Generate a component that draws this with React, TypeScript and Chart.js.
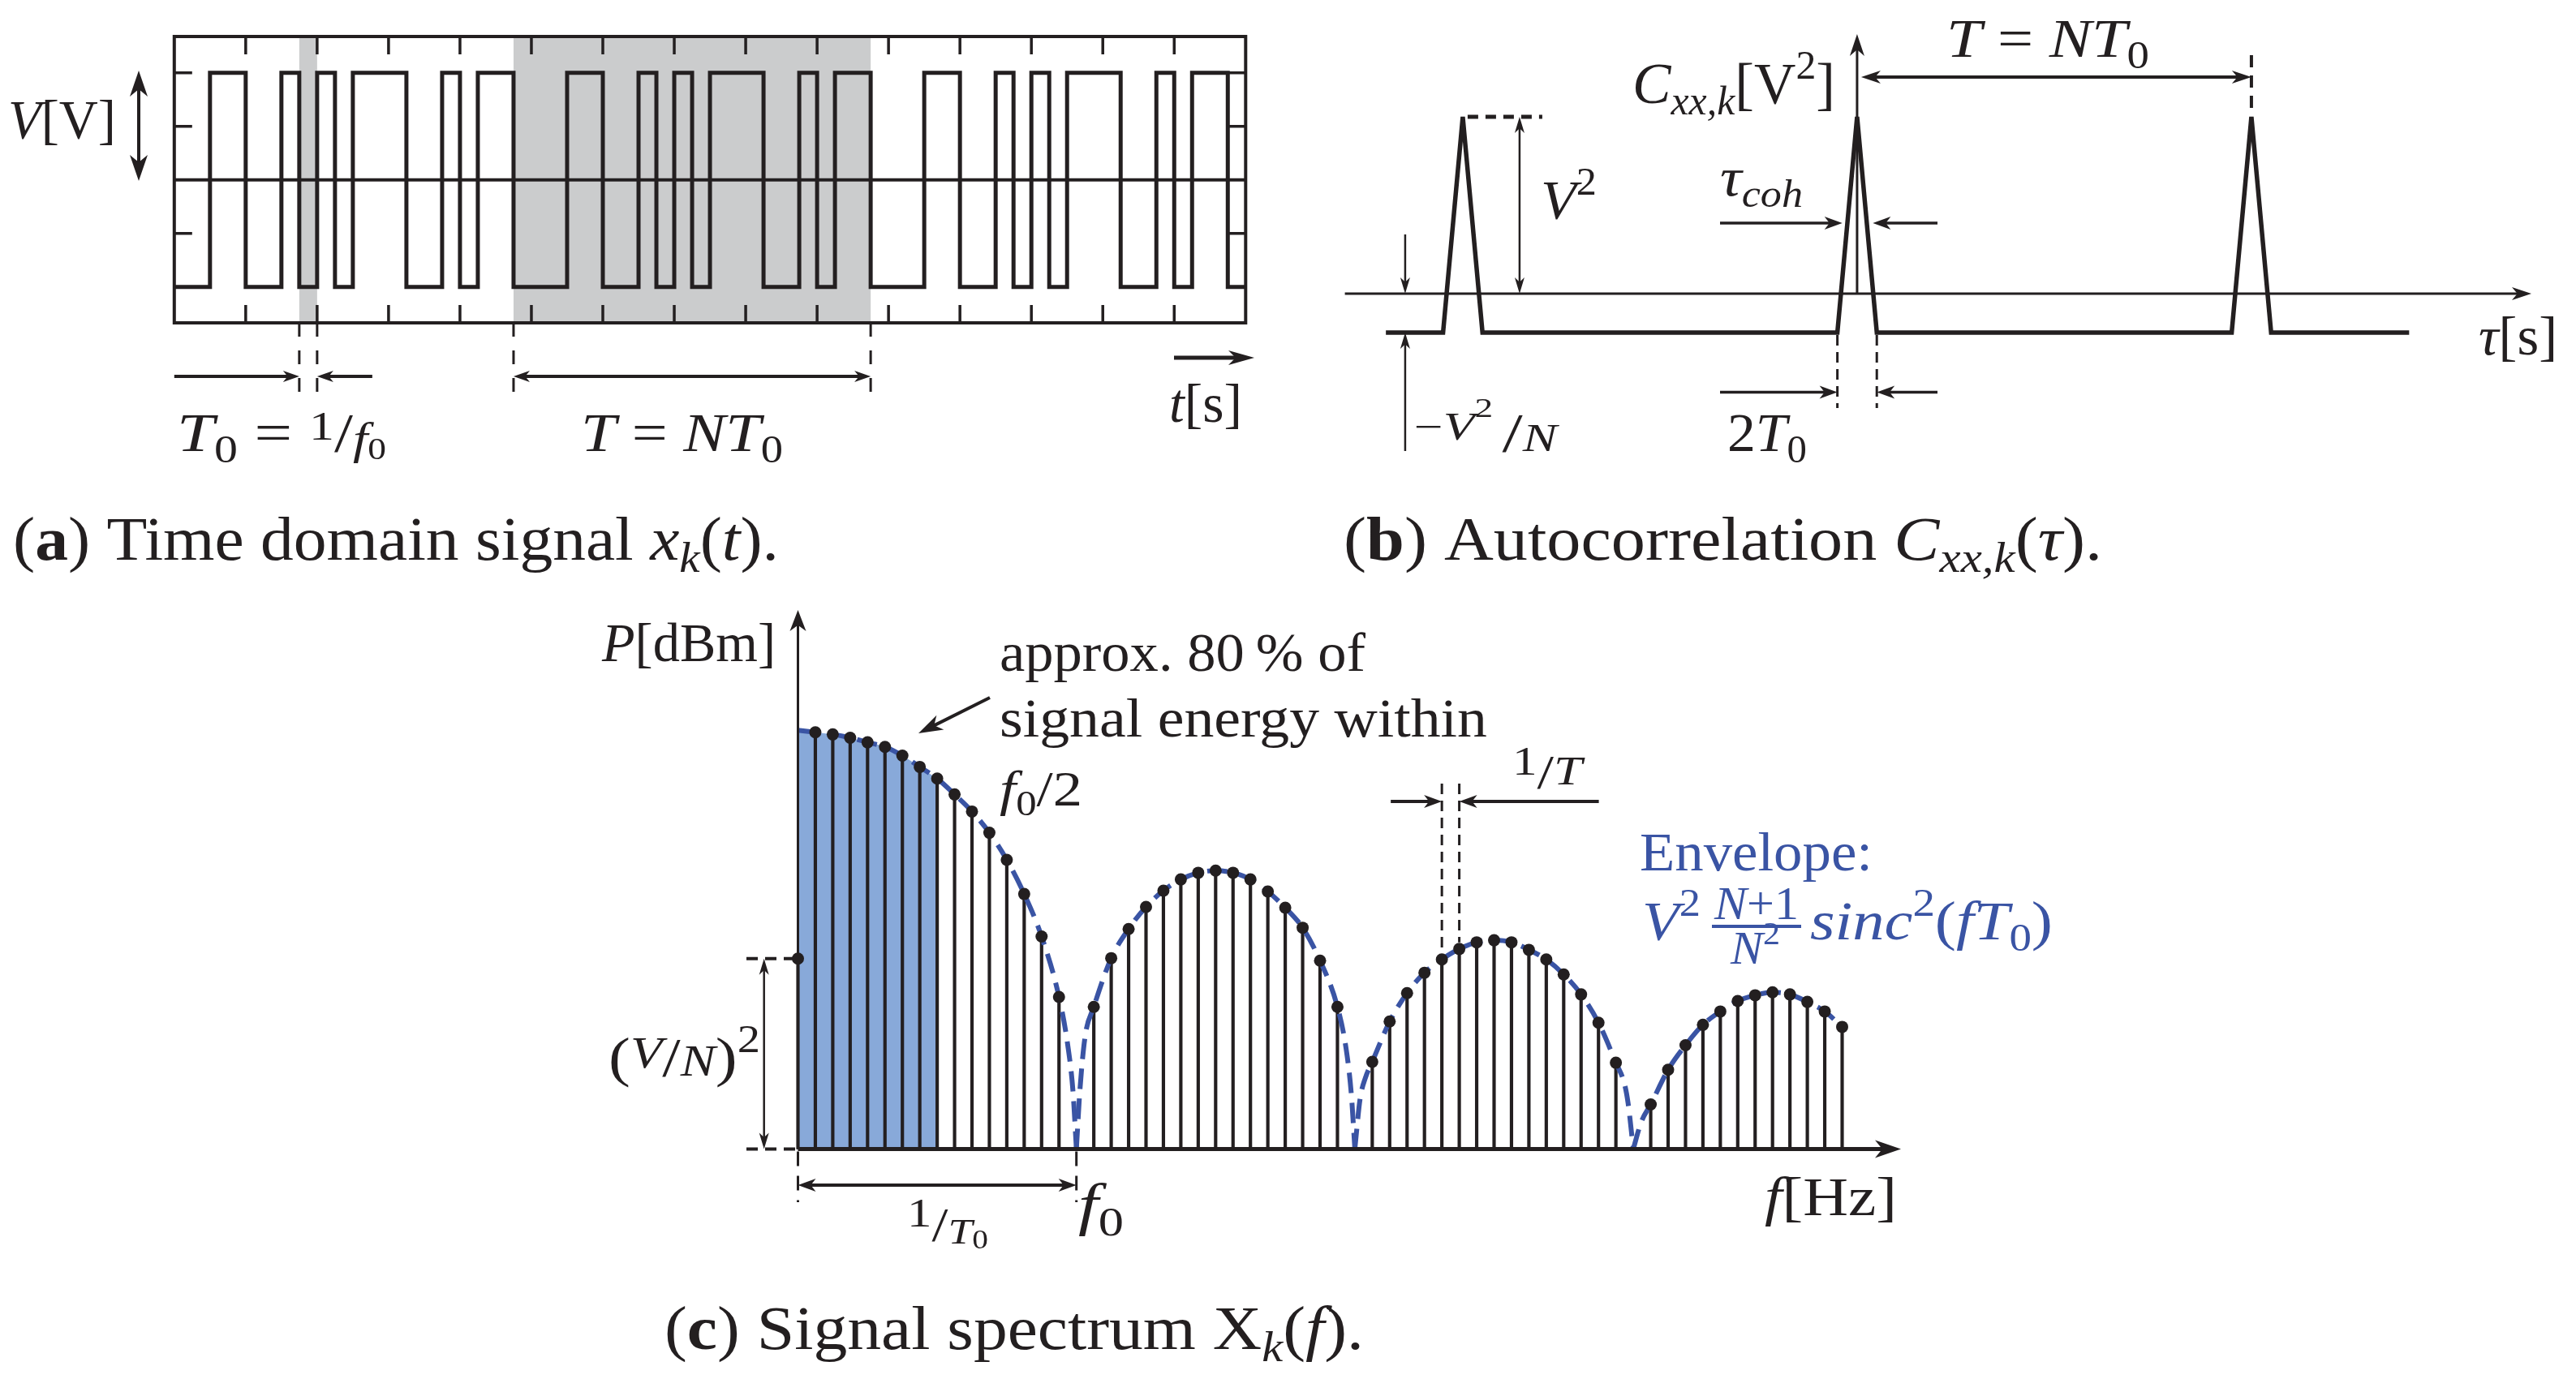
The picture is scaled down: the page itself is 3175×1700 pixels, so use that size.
import React, { useEffect, useRef } from 'react';
import { Chart, registerables } from 'chart.js';

Chart.register(...registerables);

const W = 3175;
const H = 1700;
const INK = '#231f20';
const BLUE = '#3a54a4';
const FILL_BLUE = '#88a9d9';
const SHADE = '#cbcccd';
const FONT = '"Liberation Serif", "Times New Roman", serif';

// ---------------- (a) time domain PRBS signal ----------------
const prbsBits = [
  0, 0, 1, 1, 0, 0, 1, 0, 1, 0, 1, 1, 1, 0, 0, 1, 0, 1, 1, 0,
  0, 0, 1, 1, 0, 0, 1, 0, 1, 0, 1, 1, 1, 0, 0, 1, 0, 1, 1, 0,
  0, 0, 1, 1, 0, 0, 1, 0, 1, 0, 1, 1, 1, 0, 0, 1, 0, 1, 1, 0,
];
const levelHigh = 1;
const levelLow = -1;
const clockTicks = [4, 8, 12, 16, 20, 24, 28, 32, 36, 40, 44, 48, 52, 56];
const amplitudeTicks = [1, 0.5, -0.5, -1];
const shadeStart = [7, 19];
const shadeEnd = [8, 39];

// ---------------- (b) autocorrelation ----------------
const autocorrLag = [-23.9, -21, -20, -19, -1, 0, 1, 19, 20, 21, 28];
const autocorrValue = [-0.22, -0.22, 1, -0.22, -0.22, 1, -0.22, -0.22, 1, -0.22, -0.22];

// ---------------- (c) spectrum ----------------
const spectrumBin = [
  0, 1, 2, 3, 4, 5, 6, 7, 8, 9, 10, 11, 12, 13, 14, 15, 16, 17, 18, 19, 20,
  21, 22, 23, 24, 25, 26, 27, 28, 29, 30, 31, 32, 33, 34, 35, 36, 37, 38, 39, 40,
  41, 42, 43, 44, 45, 46, 47, 48, 49, 50, 51, 52, 53, 54, 55, 56, 57, 58, 59, 60,
];
const spectrumLevel = [
  45.7, 100, 99.5, 98.7, 97.6, 96.5, 94.4, 91.7, 88.9, 85.1, 81.0, 75.9, 69.4, 61.2, 51.0, 36.5,
  null, 34.1, 45.8, 52.8, 58.1, 62.0, 64.7, 66.3, 66.8, 66.3, 64.7, 61.8, 57.9, 53.1, 45.2, 34.1,
  null, 20.9, 30.6, 37.4, 42.3, 45.5, 48.0, 49.6, 50.1, 49.6, 47.8, 45.5, 41.9, 37.1, 30.3, 20.7,
  null, 10.7, 19.0, 24.9, 29.8, 33.0, 35.5, 36.9, 37.6, 37.1, 35.3, 33.0, 29.3,
];
const envLobe1Bin = [0, 1, 2, 3, 4, 5, 6, 7, 8, 9, 10, 11, 12, 13, 14, 15, 15.5, 15.8, 16];
const envLobe1Level = [100.5, 100, 99.5, 98.7, 97.6, 96.5, 94.4, 91.7, 88.9, 85.1, 81.0, 75.9, 69.4, 61.2, 51.0, 36.5, 25, 14, 0];
const envLobe2Bin = [16, 16.2, 16.5, 17, 18, 19, 20, 21, 22, 23, 24, 25, 26, 27, 28, 29, 30, 31, 31.5, 31.8, 32];
const envLobe2Level = [0, 14, 27, 34.1, 45.8, 52.8, 58.1, 62.0, 64.7, 66.3, 66.8, 66.3, 64.7, 61.8, 57.9, 53.1, 45.2, 34.1, 24, 13, 0];
const envLobe3Bin = [32, 32.3, 32.6, 33, 34, 35, 36, 37, 38, 39, 40, 41, 42, 43, 44, 45, 46, 47, 47.5, 47.7, 48];
const envLobe3Level = [0, 12, 17, 20.9, 30.6, 37.4, 42.3, 45.5, 48.0, 49.6, 50.1, 49.6, 47.8, 45.5, 41.9, 37.1, 30.3, 20.7, 15.5, 11, 0];
const envLobe4Bin = [48, 48.45, 49, 50, 51, 52, 53, 54, 55, 56, 57, 58, 59, 60];
const envLobe4Level = [0, 6.4, 10.7, 19.0, 24.9, 29.8, 33.0, 35.5, 36.9, 37.6, 37.1, 35.3, 33.0, 29.3];
const energyBandEnd = 8; // f0/2 region (bins)
const nullBins = [16, 32, 48];
const spacingBins = [37, 38];

// ---------------- text helpers ----------------
type Run = { t: string; it?: boolean; b?: boolean; s?: number; dy?: number };

function fontOf(r: Run, size: number): string {
  return `${r.it ? 'italic ' : ''}${r.b ? 'bold ' : ''}${(size * (r.s ?? 1)).toFixed(1)}px ${FONT}`;
}
function runsWidth(ctx: CanvasRenderingContext2D, runs: Run[], size: number): number {
  let t = 0;
  runs.forEach((r) => {
    ctx.font = fontOf(r, size);
    t += ctx.measureText(r.t).width;
  });
  return t;
}
function rich(
  ctx: CanvasRenderingContext2D,
  runs: Run[],
  x: number,
  y: number,
  size: number,
  o: { w?: number; hs?: number; color?: string } = {}
) {
  const widths = runs.map((r) => {
    ctx.font = fontOf(r, size);
    return ctx.measureText(r.t).width;
  });
  const total = widths.reduce((a, b) => a + b, 0);
  const hs = o.w ? o.w / total : o.hs ?? 1.12;
  ctx.save();
  ctx.translate(x, y);
  ctx.scale(hs, 1);
  ctx.fillStyle = o.color ?? INK;
  ctx.textAlign = 'left';
  ctx.textBaseline = 'alphabetic';
  let cx = 0;
  runs.forEach((r, i) => {
    ctx.font = fontOf(r, size);
    ctx.fillText(r.t, cx, (r.dy ?? 0) * size);
    cx += widths[i];
  });
  ctx.restore();
}

// ---------------- arrow helpers ----------------
function head(ctx: CanvasRenderingContext2D, x: number, y: number, ang: number, len: number, hw: number) {
  ctx.save();
  ctx.translate(x, y);
  ctx.rotate(ang);
  ctx.beginPath();
  ctx.moveTo(0, 0);
  ctx.lineTo(-len, -hw);
  ctx.lineTo(-len * 0.72, 0);
  ctx.lineTo(-len, hw);
  ctx.closePath();
  ctx.fill();
  ctx.restore();
}
type ArrowOpt = { w?: number; len?: number; hw?: number; start?: boolean; end?: boolean; dash?: number[]; color?: string };
function arrow(ctx: CanvasRenderingContext2D, x1: number, y1: number, x2: number, y2: number, o: ArrowOpt = {}) {
  const w = o.w ?? 3;
  const len = o.len ?? 22;
  const hw = o.hw ?? 8;
  const ang = Math.atan2(y2 - y1, x2 - x1);
  const c = Math.cos(ang);
  const s = Math.sin(ang);
  let sx = x1, sy = y1, ex = x2, ey = y2;
  if (o.start) { sx += c * len * 0.7; sy += s * len * 0.7; }
  if (o.end) { ex -= c * len * 0.7; ey -= s * len * 0.7; }
  ctx.save();
  ctx.strokeStyle = o.color ?? INK;
  ctx.fillStyle = o.color ?? INK;
  ctx.lineWidth = w;
  ctx.lineCap = 'butt';
  ctx.setLineDash(o.dash ?? []);
  ctx.beginPath();
  ctx.moveTo(sx, sy);
  ctx.lineTo(ex, ey);
  ctx.stroke();
  ctx.setLineDash([]);
  if (o.end) head(ctx, x2, y2, ang, len, hw);
  if (o.start) head(ctx, x1, y1, ang + Math.PI, len, hw);
  ctx.restore();
}
function seg(ctx: CanvasRenderingContext2D, x1: number, y1: number, x2: number, y2: number, w: number, dash?: number[], color?: string) {
  arrow(ctx, x1, y1, x2, y2, { w, dash, color });
}

// ---------------- texts ----------------
const SZ = 68;
const CAP = 76;
const capA: Run[] = [{ t: '(' }, { t: 'a', b: true }, { t: ') Time domain signal ' }, { t: 'x', it: true }, { t: 'k', it: true, s: 0.7, dy: 0.2 }, { t: '(' }, { t: 't', it: true }, { t: ').' }];
const capB: Run[] = [{ t: '(' }, { t: 'b', b: true }, { t: ') Autocorrelation ' }, { t: 'C', it: true }, { t: 'xx,k', it: true, s: 0.7, dy: 0.2 }, { t: '(' }, { t: 'τ', it: true }, { t: ').' }];
const capC: Run[] = [{ t: '(' }, { t: 'c', b: true }, { t: ') Signal spectrum X' }, { t: 'k', it: true, s: 0.7, dy: 0.2 }, { t: '(' }, { t: 'f', it: true }, { t: ').' }];

// ---------------- chart helpers ----------------
function baseOptions(area: { left: number; right: number; top: number; bottom: number }, xr: number[], yr: number[]) {
  return {
    responsive: false,
    maintainAspectRatio: false,
    animation: false as const,
    devicePixelRatio: 1,
    events: [] as any[],
    layout: { padding: { left: area.left, right: W - area.right, top: area.top, bottom: H - area.bottom } },
    plugins: { legend: { display: false }, tooltip: { enabled: false }, title: { display: false } },
    scales: {
      x: { type: 'linear' as const, display: false, min: xr[0], max: xr[1], offset: false, bounds: 'data' as const },
      y: { type: 'linear' as const, display: false, min: yr[0], max: yr[1], bounds: 'data' as const },
    },
  };
}

// ---------- panel (a) ----------
const AREA_A = { left: 214.8, right: 1535.3, top: 45, bottom: 398 };
const plotA = {
  id: 'plotA',
  beforeDatasetsDraw(chart: any) {
    const { ctx, chartArea: a, scales } = chart;
    const x = scales.x;
    ctx.save();
    ctx.fillStyle = SHADE;
    shadeStart.forEach((s, i) => {
      const x0 = x.getPixelForValue(s);
      const x1 = x.getPixelForValue(shadeEnd[i]);
      ctx.fillRect(x0, a.top, x1 - x0, a.bottom - a.top);
    });
    ctx.restore();
  },
  afterDatasetsDraw(chart: any) {
    const { ctx, chartArea: a, scales } = chart;
    const x = scales.x;
    const y = scales.y;
    ctx.save();
    ctx.strokeStyle = INK;
    ctx.lineWidth = 3.5;
    ctx.beginPath();
    clockTicks.forEach((b) => {
      const px = x.getPixelForValue(b);
      ctx.moveTo(px, a.top); ctx.lineTo(px, a.top + 22);
      ctx.moveTo(px, a.bottom); ctx.lineTo(px, a.bottom - 22);
    });
    amplitudeTicks.forEach((v) => {
      const py = y.getPixelForValue(v);
      ctx.moveTo(a.left, py); ctx.lineTo(a.left + 22, py);
      ctx.moveTo(a.right, py); ctx.lineTo(a.right - 22, py);
    });
    ctx.stroke();
    ctx.lineWidth = 4;
    ctx.strokeRect(a.left, a.top, a.right - a.left, a.bottom - a.top);
    ctx.restore();

    [shadeStart[0], shadeEnd[0], shadeStart[1], shadeEnd[1]].forEach((b) => {
      const px = x.getPixelForValue(b);
      seg(ctx, px, a.bottom, px, 486, 3, [17, 17]);
    });
    const yArr = 464;
    arrow(ctx, a.left, yArr, x.getPixelForValue(shadeStart[0]), yArr, { w: 4, end: true, len: 20, hw: 7 });
    arrow(ctx, x.getPixelForValue(shadeEnd[0]) + 68, yArr, x.getPixelForValue(shadeEnd[0]), yArr, { w: 4, end: true, len: 20, hw: 7 });
    arrow(ctx, x.getPixelForValue(shadeStart[1]), yArr, x.getPixelForValue(shadeEnd[1]), yArr, { w: 4, start: true, end: true, len: 20, hw: 7 });
    arrow(ctx, 1447, 441, 1546, 441, { w: 5, end: true, len: 32, hw: 9 });
    arrow(ctx, 171, 87, 171, 223, { w: 4, start: true, end: true, len: 32, hw: 11 });

    rich(ctx, [{ t: 'V', it: true }, { t: '[V]' }], 10, 170, SZ, { w: 133 });
    rich(ctx, [
      { t: 'T', it: true }, { t: '0', s: 0.7, dy: 0.2 }, { t: ' = ' },
      { t: '1', s: 0.75, dy: -0.2 }, { t: '/' }, { t: 'f', it: true, s: 0.8, dy: 0.05 }, { t: '0', s: 0.55, dy: 0.15 },
    ], 218, 556, SZ, { w: 258 });
    rich(ctx, [{ t: 'T', it: true }, { t: ' = ' }, { t: 'NT', it: true }, { t: '0', s: 0.7, dy: 0.2 }], 716, 556, SZ, { w: 249 });
    rich(ctx, [{ t: 't', it: true }, { t: '[s]' }], 1441, 520, SZ, { w: 90 });
    rich(ctx, capA, 16, 690, CAP, { w: 944 });
  },
};

// ---------- panel (b) ----------
const AREA_B = { left: 1657.6, right: 3120, top: 41.9, bottom: 560 };
const plotB = {
  id: 'plotB',
  beforeDatasetsDraw(chart: any) {
    const { ctx, chartArea: a, scales } = chart;
    const x = scales.x;
    const y = scales.y;
    const y0 = y.getPixelForValue(0);
    const xc = x.getPixelForValue(0);
    arrow(ctx, a.left, y0, a.right, y0, { w: 3, end: true, len: 24, hw: 8 });
    arrow(ctx, xc, y0, xc, a.top, { w: 3, end: true, len: 27, hw: 9 });
  },
  afterDatasetsDraw(chart: any) {
    const { ctx, scales } = chart;
    const x = scales.x;
    const y = scales.y;
    const y0 = y.getPixelForValue(0);
    const yPk = y.getPixelForValue(1);
    const yFloor = y.getPixelForValue(autocorrValue[0]);
    const xc = x.getPixelForValue(0);
    const xNext = x.getPixelForValue(20);
    const xPrev = x.getPixelForValue(-20);

    seg(ctx, xNext, 68, xNext, yPk - 8, 4, [15, 10]);
    arrow(ctx, xc + 5, 95, xNext, 95, { w: 4, start: true, end: true, len: 24, hw: 8 });

    seg(ctx, xPrev + 6, yPk, xPrev + 98, yPk, 5, [13, 9]);
    arrow(ctx, xPrev + 70, yPk, xPrev + 70, y0, { w: 2.5, start: true, end: true, len: 20, hw: 6 });

    const xm = xPrev - 71;
    arrow(ctx, xm, 289, xm, y0, { w: 2.5, end: true, len: 20, hw: 6 });
    arrow(ctx, xm, 556, xm, yFloor, { w: 2.5, end: true, len: 20, hw: 6 });

    const xl = x.getPixelForValue(-0.75);
    const xr = x.getPixelForValue(0.8);
    arrow(ctx, 2120, 275, xl, 275, { w: 3.5, end: true, len: 22, hw: 8 });
    arrow(ctx, 2388, 275, xr, 275, { w: 3.5, end: true, len: 22, hw: 8 });

    const xm1 = x.getPixelForValue(-1);
    const xp1 = x.getPixelForValue(1);
    seg(ctx, xm1, yFloor + 3, xm1, 503, 3, [13, 8]);
    seg(ctx, xp1, yFloor + 3, xp1, 503, 3, [13, 8]);
    arrow(ctx, 2120, 483.5, xm1, 483.5, { w: 3.5, end: true, len: 22, hw: 8 });
    arrow(ctx, 2388, 483.5, xp1, 483.5, { w: 3.5, end: true, len: 22, hw: 8 });

    rich(ctx, [{ t: 'C', it: true }, { t: 'xx,k', it: true, s: 0.7, dy: 0.2 }, { t: '[V' }, { t: '2', s: 0.7, dy: -0.42 }, { t: ']' }], 2012, 127, 72, { w: 250 });
    rich(ctx, [{ t: 'T', it: true }, { t: ' = ' }, { t: 'NT', it: true }, { t: '0', s: 0.7, dy: 0.2 }], 2399, 70, SZ, { w: 250 });
    rich(ctx, [{ t: 'V', it: true }, { t: '2', s: 0.7, dy: -0.42 }], 1899, 269, SZ, { w: 69 });
    rich(ctx, [{ t: 'τ', it: true }, { t: 'coh', it: true, s: 0.7, dy: 0.2 }], 2120, 241, SZ, { w: 102 });
    rich(ctx, [
      { t: '−', s: 0.7, dy: -0.2 }, { t: 'V', it: true, s: 0.7, dy: -0.2 }, { t: '2 ', s: 0.5, dy: -0.62 },
      { t: '/' }, { t: 'N', it: true, s: 0.7, dy: 0 },
    ], 1743, 556, SZ, { w: 176 });
    rich(ctx, [{ t: '2' }, { t: 'T', it: true }, { t: '0', s: 0.7, dy: 0.2 }], 2129, 556, SZ, { w: 98 });
    rich(ctx, [{ t: 'τ', it: true }, { t: '[s]' }], 3055, 437, SZ, { w: 97 });

    const hsA = 944 / runsWidth(ctx, capA, CAP);
    const hsC = 862 / runsWidth(ctx, capC, CAP);
    rich(ctx, capB, 1656, 690, CAP, { hs: ((hsA + hsC) / 2) * 1.02 });
  },
};

// ---------- panel (c) ----------
const AREA_C = { left: 983.5, right: 2343, top: 752, bottom: 1416.4 };
const plotC = {
  id: 'plotC',
  afterDatasetsDraw(chart: any) {
    const { ctx, chartArea: a, scales } = chart;
    const x = scales.x;
    const y = scales.y;
    const x0 = x.getPixelForValue(0);
    const y0 = y.getPixelForValue(0);

    arrow(ctx, x0, y0, a.right, y0, { w: 5, end: true, len: 32, hw: 11 });
    arrow(ctx, x0, y0, x0, a.top, { w: 3, end: true, len: 26, hw: 10 });

    const yDC = y.getPixelForValue(spectrumLevel[0] as number);
    seg(ctx, 920, yDC, x0 - 6, yDC, 4, [14, 9]);
    seg(ctx, 920, y0, x0, y0, 4, [14, 9]);
    arrow(ctx, 941.7, yDC, 941.7, y0, { w: 2.5, start: true, end: true, len: 20, hw: 6 });

    const xf0 = x.getPixelForValue(nullBins[0]);
    seg(ctx, x0, y0 + 3, x0, 1482, 3, [18, 12]);
    seg(ctx, xf0, y0 + 3, xf0, 1482, 3, [18, 12]);
    arrow(ctx, x0, 1461, xf0, 1461, { w: 4, start: true, end: true, len: 22, hw: 8 });

    const xa = x.getPixelForValue(spacingBins[0]);
    const xb = x.getPixelForValue(spacingBins[1]);
    seg(ctx, xa, 966, xa, y.getPixelForValue(spectrumLevel[spacingBins[0]] as number) - 8, 3, [13, 8]);
    seg(ctx, xb, 966, xb, y.getPixelForValue(spectrumLevel[spacingBins[1]] as number) - 8, 3, [13, 8]);
    arrow(ctx, xa - 63, 988, xa, 988, { w: 4, end: true, len: 22, hw: 8 });
    arrow(ctx, xb + 172, 988, xb, 988, { w: 4, end: true, len: 22, hw: 8 });

    arrow(ctx, 1220, 860, 1132, 904, { w: 4, end: true, len: 30, hw: 10 });

    rich(ctx, [{ t: 'P', it: true }, { t: '[dBm]' }], 742, 815, SZ, { w: 214 });
    rich(ctx, [{ t: 'approx. 80\u2009% of' }], 1232, 827, SZ, { w: 451 });
    rich(ctx, [{ t: 'signal energy within' }], 1232, 908, SZ, { w: 601 });
    rich(ctx, [{ t: 'f', it: true }, { t: '0', s: 0.7, dy: 0.2 }, { t: '/2' }], 1232, 993, 62, { w: 102 });
    rich(ctx, [{ t: '1', s: 0.83, dy: -0.28 }, { t: '/' }, { t: 'T', it: true, s: 0.85, dy: -0.09 }], 1864, 972, 60, { w: 86 });

    rich(ctx, [{ t: 'Envelope:' }], 2021, 1073, SZ, { w: 287, color: BLUE });
    rich(ctx, [{ t: 'V', it: true }, { t: '2', s: 0.7, dy: -0.42 }], 2024, 1158, SZ, { w: 72, color: BLUE });
    rich(ctx, [{ t: 'N', it: true }, { t: '+1' }], 2113, 1133, 56, { w: 104, color: BLUE });
    seg(ctx, 2110, 1142, 2220, 1142, 4, undefined, BLUE);
    rich(ctx, [{ t: 'N', it: true }, { t: '2', s: 0.7, dy: -0.42 }], 2133, 1188, 56, { w: 61, color: BLUE });
    rich(ctx, [
      { t: 'sinc', it: true }, { t: '2', s: 0.7, dy: -0.42 }, { t: '(' }, { t: 'fT', it: true }, { t: '0', s: 0.7, dy: 0.2 }, { t: ')' },
    ], 2231, 1158, SZ, { w: 299, color: BLUE });

    rich(ctx, [
      { t: '(' }, { t: 'V', it: true, s: 0.8, dy: -0.15 }, { t: '/' }, { t: 'N', it: true, s: 0.8 }, { t: ')' }, { t: '2', s: 0.7, dy: -0.42 },
    ], 750, 1326, SZ, { w: 187 });
    rich(ctx, [{ t: '1', s: 0.85, dy: -0.3 }, { t: '/' }, { t: 'T', it: true, s: 0.75, dy: 0.05 }, { t: '0', s: 0.55, dy: 0.15 }], 1118, 1530, 60, { w: 100 });
    rich(ctx, [{ t: 'f', it: true }, { t: '0', s: 0.7, dy: 0.2 }], 1329, 1509, 72, { w: 56 });
    rich(ctx, [{ t: 'f', it: true }, { t: '[Hz]' }], 2175, 1498, SZ, { w: 163 });
    rich(ctx, capC, 819, 1663, CAP, { w: 862 });
  },
};

function configA(): any {
  const pts = prbsBits.map((b, i) => ({ x: i, y: b ? levelHigh : levelLow }));
  pts.push({ x: prbsBits.length, y: prbsBits[prbsBits.length - 1] ? levelHigh : levelLow });
  return {
    type: 'line',
    data: {
      datasets: [
        { data: pts, stepped: true, borderColor: INK, borderWidth: 5, pointRadius: 0, fill: false, order: 0 },
        { data: [{ x: 0, y: 0 }, { x: prbsBits.length, y: 0 }], borderColor: INK, borderWidth: 4, pointRadius: 0, fill: false, order: 1 },
      ],
    },
    options: baseOptions(AREA_A, [0, prbsBits.length], [-1.336, 1.339]),
    plugins: [plotA],
  };
}

function configB(): any {
  const pts = autocorrLag.map((t, i) => ({ x: t, y: autocorrValue[i] }));
  return {
    type: 'line',
    data: {
      datasets: [
        { data: pts, borderColor: INK, borderWidth: 5.5, pointRadius: 0, fill: false, tension: 0 },
      ],
    },
    options: baseOptions(AREA_B, [-25.98, 34.2], [-0.907, 1.4675]),
    plugins: [plotB],
  };
}

function configC(): any {
  const lobe = (bins: number[], lv: number[]) => bins.map((b, i) => ({ x: b, y: lv[i] }));
  const lobes = [
    lobe(envLobe1Bin, envLobe1Level),
    lobe(envLobe2Bin, envLobe2Level),
    lobe(envLobe3Bin, envLobe3Level),
    lobe(envLobe4Bin, envLobe4Level),
  ];
  const band = lobes[0].filter((p) => p.x <= energyBandEnd);
  const pts = spectrumBin.map((k, i) => ({ x: k, y: spectrumLevel[i] }));
  return {
    type: 'bar',
    data: {
      datasets: [
        { type: 'line', data: pts, showLine: false, pointRadius: 7.5, pointBackgroundColor: INK, pointBorderWidth: 0, order: 0, clip: false },
        ...lobes.map((l) => ({
          type: 'line', data: l, borderColor: BLUE, borderWidth: 6, borderDash: [25, 12], pointRadius: 0,
          cubicInterpolationMode: 'monotone', fill: false, order: 1, clip: false,
        })),
        { type: 'bar', data: pts, backgroundColor: INK, barThickness: 3.5, borderWidth: 0, order: 2, clip: false },
        {
          type: 'line', data: band, borderColor: 'rgba(0,0,0,0)', borderWidth: 0, backgroundColor: FILL_BLUE,
          fill: 'origin', pointRadius: 0, cubicInterpolationMode: 'monotone', order: 3,
        },
      ],
    },
    options: baseOptions(AREA_C, [0, 63.38], [0, 129.36]),
    plugins: [plotC],
  };
}

export default function App() {
  const refA = useRef<HTMLCanvasElement>(null);
  const refB = useRef<HTMLCanvasElement>(null);
  const refC = useRef<HTMLCanvasElement>(null);

  useEffect(() => {
    let alive = true;
    const charts = [
      new Chart(refA.current as HTMLCanvasElement, configA()),
      new Chart(refB.current as HTMLCanvasElement, configB()),
      new Chart(refC.current as HTMLCanvasElement, configC()),
    ];
    const fonts = (document as any).fonts;
    if (fonts && fonts.load) {
      Promise.all([
        fonts.load(`68px ${FONT}`),
        fonts.load(`italic 68px ${FONT}`),
        fonts.load(`bold 68px ${FONT}`),
      ])
        .then(() => {
          if (alive) charts.forEach((c) => c.render());
        })
        .catch(() => {});
    }
    return () => {
      alive = false;
      charts.forEach((c) => c.destroy());
    };
  }, []);

  const st: React.CSSProperties = { position: 'absolute', left: 0, top: 0, width: W, height: H };
  return (
    <div style={{ position: 'absolute', left: 0, top: 0, width: W, height: H, background: '#ffffff', overflow: 'hidden' }}>
      <canvas ref={refA} width={W} height={H} style={st} />
      <canvas ref={refB} width={W} height={H} style={st} />
      <canvas ref={refC} width={W} height={H} style={st} />
    </div>
  );
}
